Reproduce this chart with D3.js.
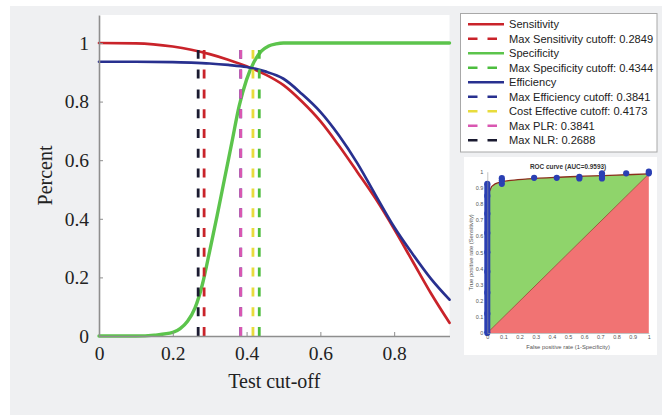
<!DOCTYPE html>
<html>
<head>
<meta charset="utf-8">
<script src="https://cdn.jsdelivr.net/npm/d3@7"></script>
<style>
  html, body { margin: 0; padding: 0; background: #ffffff; }
  svg { display: block; }
</style>
</head>
<body>
<svg id="chart" width="662" height="415"></svg>
<script>
// ---- Curves vs. test cut-off ----
const cutoff      = [0, 0.1, 0.2, 0.25, 0.3, 0.35, 0.4, 0.45, 0.5, 0.55, 0.6, 0.65, 0.7, 0.75, 0.8, 0.85, 0.9, 0.95];
const sensitivity = [1.0, 0.999, 0.988, 0.977, 0.962, 0.943, 0.921, 0.893, 0.856, 0.80, 0.733, 0.65, 0.56, 0.468, 0.365, 0.255, 0.145, 0.045];
const efficiency  = [0.936, 0.936, 0.935, 0.933, 0.93, 0.925, 0.918, 0.903, 0.878, 0.826, 0.765, 0.685, 0.59, 0.48, 0.372, 0.28, 0.195, 0.124];

const specCutoff  = [0, 0.1, 0.15, 0.2, 0.22, 0.24, 0.26, 0.28, 0.3, 0.32, 0.34, 0.36, 0.38, 0.4, 0.42, 0.44, 0.46, 0.48, 0.5, 0.6, 0.95];
const specificity = [0, 0, 0.003, 0.012, 0.025, 0.05, 0.095, 0.175, 0.29, 0.41, 0.535, 0.66, 0.785, 0.875, 0.935, 0.972, 0.99, 0.997, 1.0, 1.0, 1.0];

const seriesNames = ["Sensitivity", "Specificity", "Efficiency"];

// Vertical cut-off markers
const markerNames  = ["Max Sensitivity cutoff", "Max Specificity cutoff", "Max Efficiency cutoff",
                      "Cost Effective cutoff", "Max PLR", "Max NLR"];
const markerValues = [0.2849, 0.4344, 0.3841, 0.4173, 0.3841, 0.2688];

const xTicks = [0, 0.2, 0.4, 0.6, 0.8];
const yTicks = [0, 0.2, 0.4, 0.6, 0.8, 1];

// ---- ROC inset ----
const rocFpr = [0, 0, 0.005, 0.017, 0.048, 0.13, 0.25, 0.42, 0.6, 0.8, 1.0];
const rocTpr = [0, 0.80, 0.85, 0.887, 0.924, 0.944, 0.955, 0.965, 0.972, 0.979, 0.986];
const rocPointFpr = [0, 0, 0, 0, 0, 0, 0, 0, 0, 0.09, 0.09, 0.09, 0.29, 0.43, 0.57, 0.57, 0.71, 0.71, 0.71, 0.86, 1.0, 1.0];
const rocPointTpr = [0, 0.12, 0.25, 0.38, 0.5, 0.62, 0.74, 0.85, 0.925, 0.925, 0.945, 0.96, 0.962, 0.962, 0.958, 0.968, 0.958, 0.975, 0.99, 0.99, 0.99, 1.0];
const rocTicks = [0, 0.1, 0.2, 0.3, 0.4, 0.5, 0.6, 0.7, 0.8, 0.9, 1];
const rocAuc = "0.9593";

// ---- styling ----
const seriesColor = { "Sensitivity": "#c9232a", "Specificity": "#5cc44c", "Efficiency": "#28308f" };
const markerColor = ["#c9232a", "#4cbd3e", "#28308f", "#e8dc3c", "#d957b1", "#1a1a30"];
const serif = "'Liberation Serif', 'Times New Roman', serif";
const sans = "'Liberation Sans', Arial, sans-serif";

const svg = d3.select("#chart");

// panel background
svg.append("rect").attr("x", 10).attr("y", 6).attr("width", 652).attr("height", 409).attr("fill", "#eff0f2");

// ---- main axes ----
const x = d3.scaleLinear().domain([0, 0.95]).range([99, 449.5]);
const y = d3.scaleLinear().domain([0, 1.0955]).range([336, 15]);

svg.append("rect")
  .attr("x", x(0)).attr("y", y(1.0955))
  .attr("width", x(0.95) - x(0)).attr("height", y(0) - y(1.0955))
  .attr("fill", "#ffffff");

const line = d3.line().x(d => x(d[0])).y(d => y(d[1])).curve(d3.curveMonotoneX);

const curves = [
  { name: "Sensitivity", pts: d3.zip(cutoff, sensitivity), w: 2.7 },
  { name: "Specificity", pts: d3.zip(specCutoff, specificity), w: 3.4 },
  { name: "Efficiency",  pts: d3.zip(cutoff, efficiency), w: 2.7 }
];

svg.append("g").selectAll("path").data(curves).join("path")
  .attr("d", d => line(d.pts))
  .attr("fill", "none")
  .attr("stroke", d => seriesColor[d.name])
  .attr("stroke-width", d => d.w)
  .attr("stroke-linecap", "round");

// dashed cut-off lines, drawn from the x axis upward
svg.append("g").selectAll("line").data(markerValues).join("line")
  .attr("x1", d => x(d)).attr("x2", d => x(d))
  .attr("y1", y(0)).attr("y2", y(0.976))
  .attr("stroke", (d, i) => markerColor[i])
  .attr("stroke-width", 2.8)
  .attr("stroke-dasharray", "9,10.8");

const axisColor = "#8e8e8e";
const gx = svg.append("g").attr("transform", `translate(0,${y(0)})`)
  .call(d3.axisBottom(x).tickValues(xTicks).tickFormat(d3.format("~g"))
        .tickSizeInner(-4).tickSizeOuter(0).tickPadding(10));
const gy = svg.append("g").attr("transform", `translate(${x(0)},0)`)
  .call(d3.axisLeft(y).tickValues(yTicks).tickFormat(d3.format("~g"))
        .tickSizeInner(-4).tickSizeOuter(0).tickPadding(10));
[gx, gy].forEach(g => {
  g.select(".domain").attr("stroke", axisColor).attr("stroke-width", 1.6);
  g.selectAll(".tick line").attr("stroke", axisColor);
  g.selectAll(".tick text").attr("font-family", serif).attr("font-size", 19.5).attr("fill", "#222");
});

svg.append("text")
  .attr("x", (x(0) + x(0.95)) / 2).attr("y", 388)
  .attr("text-anchor", "middle")
  .attr("font-family", serif).attr("font-size", 20).attr("fill", "#222")
  .text("Test cut-off");

svg.append("text")
  .attr("transform", `translate(52,${(y(0) + y(1.0955)) / 2}) rotate(-90)`)
  .attr("text-anchor", "middle")
  .attr("font-family", serif).attr("font-size", 20).attr("fill", "#222")
  .text("Percent");

// ---- legend ----
const legendItems = [
  { label: seriesNames[0], color: seriesColor[seriesNames[0]], dashed: false },
  { label: `${markerNames[0]}: ${markerValues[0]}`, color: markerColor[0], dashed: true },
  { label: seriesNames[1], color: seriesColor[seriesNames[1]], dashed: false },
  { label: `${markerNames[1]}: ${markerValues[1]}`, color: markerColor[1], dashed: true },
  { label: seriesNames[2], color: seriesColor[seriesNames[2]], dashed: false },
  ...markerNames.slice(2).map((n, i) => ({ label: `${n}: ${markerValues[i + 2]}`, color: markerColor[i + 2], dashed: true }))
];

const legend = svg.append("g");
legend.append("rect")
  .attr("x", 460.5).attr("y", 13.5).attr("width", 196.5).attr("height", 138.5)
  .attr("fill", "#ffffff").attr("stroke", "#a8a8a8").attr("stroke-width", 1);

const rows = legend.selectAll("g.row").data(legendItems).join("g")
  .attr("class", "row")
  .attr("transform", (d, i) => `translate(0,${24.3 + i * 14.5})`);
rows.append("line")
  .attr("x1", 468).attr("x2", d => d.dashed ? 497 : 504)
  .attr("y1", 0).attr("y2", 0)
  .attr("stroke", d => d.color).attr("stroke-width", 2.6)
  .attr("stroke-dasharray", d => d.dashed ? "9.5,10" : null);
rows.append("text")
  .attr("x", 509).attr("y", 0).attr("dy", "0.35em")
  .attr("font-family", sans).attr("font-size", 11.1).attr("fill", "#222")
  .text(d => d.label);

// ---- ROC inset ----
const inset = svg.append("g");
inset.append("rect").attr("x", 464).attr("y", 157).attr("width", 193).attr("height", 198).attr("fill", "#ffffff");

const rx = d3.scaleLinear().domain([0, 1]).range([487.3, 648.8]);
const ry = d3.scaleLinear().domain([0, 1]).range([333, 171.7]);

const rocPts = d3.zip(rocFpr, rocTpr);
const last = rocPts[rocPts.length - 1];

// area between the ROC curve and the chance diagonal
inset.append("path")
  .attr("d", d3.line().x(d => rx(d[0])).y(d => ry(d[1]))(rocPts.concat([[0, 0]])))
  .attr("fill", "#8fd46b");
// area below the diagonal
inset.append("path")
  .attr("d", d3.line().x(d => rx(d[0])).y(d => ry(d[1]))([[0, 0], [1, 0], last, [0, 0]]))
  .attr("fill", "#f17373");
inset.append("line")
  .attr("x1", rx(0)).attr("y1", ry(0)).attr("x2", rx(last[0])).attr("y2", ry(last[1]))
  .attr("stroke", "#8c4a2a").attr("stroke-width", 0.8);
inset.append("path")
  .attr("d", d3.line().x(d => rx(d[0])).y(d => ry(d[1])).curve(d3.curveMonotoneX)(rocPts.slice(1)))
  .attr("fill", "none").attr("stroke", "#8a2f1c").attr("stroke-width", 1.3);

// empirical ROC points
const rocPoints = d3.zip(rocPointFpr, rocPointTpr);
inset.append("path")
  .attr("d", d3.line().x(d => rx(d[0])).y(d => ry(d[1]))(rocPoints.slice(0, 9)))
  .attr("stroke", "#2a3fb3").attr("stroke-width", 6).attr("fill", "none");
inset.append("g").selectAll("circle").data(rocPoints).join("circle")
  .attr("cx", d => rx(d[0])).attr("cy", d => ry(d[1])).attr("r", 3.1)
  .attr("fill", "#2a3fb3");

const rgx = inset.append("g").attr("transform", `translate(0,${ry(0)})`)
  .call(d3.axisBottom(rx).tickValues(rocTicks).tickFormat(d3.format("~g")).tickSize(0).tickPadding(2.5));
const rgy = inset.append("g").attr("transform", `translate(${rx(0)},0)`)
  .call(d3.axisLeft(ry).tickValues(rocTicks).tickFormat(d3.format("~g")).tickSize(0).tickPadding(4));
[rgx, rgy].forEach(g => {
  g.select(".domain").attr("stroke", "#9a9a9a").attr("stroke-width", 0.6);
  g.selectAll(".tick text").attr("font-family", sans).attr("font-size", 5.5).attr("fill", "#555");
});

inset.append("text")
  .attr("x", (rx(0) + rx(1)) / 2).attr("y", 169)
  .attr("text-anchor", "middle")
  .attr("font-family", sans).attr("font-size", 6.4).attr("font-weight", "bold").attr("fill", "#333")
  .text(`ROC curve (AUC=${rocAuc})`);
inset.append("text")
  .attr("x", (rx(0) + rx(1)) / 2).attr("y", 348.5)
  .attr("text-anchor", "middle")
  .attr("font-family", sans).attr("font-size", 5.8).attr("fill", "#555")
  .text("False positive rate (1-Specificity)");
inset.append("text")
  .attr("transform", `translate(473,${(ry(0) + ry(1)) / 2}) rotate(-90)`)
  .attr("text-anchor", "middle")
  .attr("font-family", sans).attr("font-size", 5.8).attr("fill", "#555")
  .text("True positive rate (Sensitivity)");
</script>
</body>
</html>
